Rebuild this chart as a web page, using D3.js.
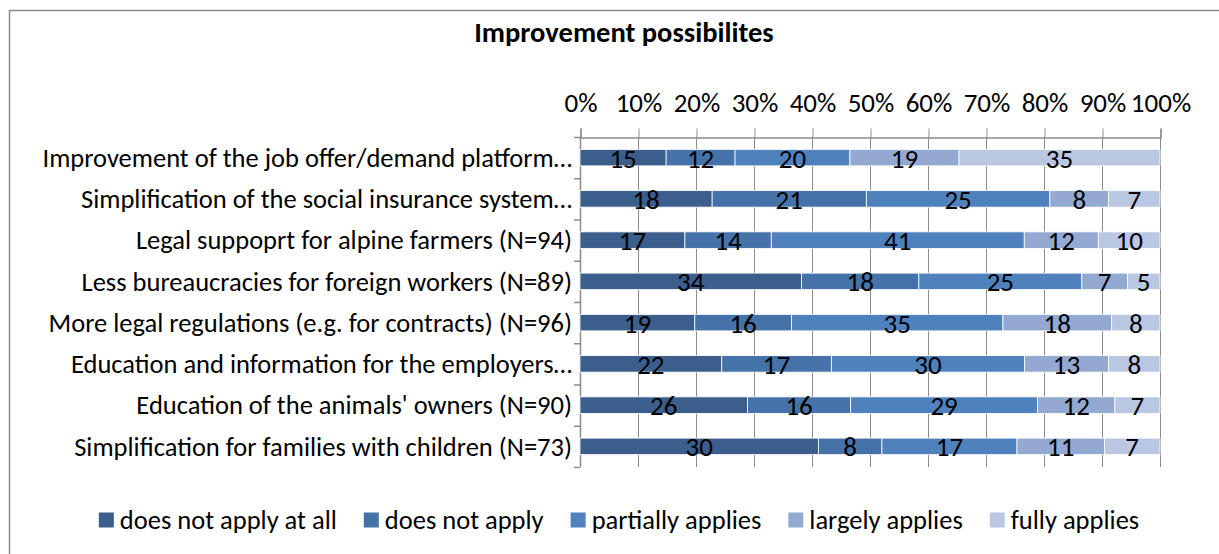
<!DOCTYPE html>
<html>
<head>
<meta charset="utf-8">
<script src="https://cdn.jsdelivr.net/npm/d3@7"></script>
<style>
  body { margin: 0; background: #fff; }
  svg { font-family: Carlito, Lato, sans-serif; }
</style>
</head>
<body>
<div id="vis"></div>
<script>
const categories = [
    "Improvement of the job offer/demand platform\u2026",
    "Simplification of the social insurance system\u2026",
    "Legal suppoprt for alpine farmers (N=94)",
    "Less bureaucracies for foreign workers (N=89)",
    "More legal regulations (e.g. for contracts) (N=96)",
    "Education and information for the employers\u2026",
    "Education of the animals' owners (N=90)",
    "Simplification for families with children (N=73)"
];
const seriesNames = ["does not apply at all", "does not apply", "partially applies", "largely applies", "fully applies"];
const doesNotApplyAtAll = [15, 18, 17, 34, 19, 22, 26, 30];
const doesNotApply      = [12, 21, 14, 18, 16, 17, 16, 8];
const partiallyApplies  = [20, 25, 41, 25, 35, 30, 29, 17];
const largelyApplies    = [19, 8, 12, 7, 18, 13, 12, 11];
const fullyApplies      = [35, 7, 10, 5, 8, 8, 7, 7];
const tickValues = [0, 0.1, 0.2, 0.3, 0.4, 0.5, 0.6, 0.7, 0.8, 0.9, 1];
const colors = ["#3b5e8c", "#4572a8", "#4f81bd", "#93a9d1", "#b9c7e2"];

const width = 1219, height = 554;
const svg = d3.select("#vis").append("svg")
    .attr("width", width)
    .attr("height", height);

// chart frame
svg.append("rect")
    .attr("x", 9.5).attr("y", 10.5)
    .attr("width", 1300).attr("height", 600)
    .attr("fill", "none")
    .attr("stroke", "#8c8c8c")
    .attr("stroke-width", 1.5);

svg.append("text")
    .attr("x", 624).attr("y", 42)
    .attr("text-anchor", "middle")
    .style("font-weight", "bold")
    .style("font-size", "28.5px")
    .text("Improvement possibilites");

const allSeries = [doesNotApplyAtAll, doesNotApply, partiallyApplies, largelyApplies, fullyApplies];
const rows = categories.map((c, i) => {
    const r = { category: c };
    seriesNames.forEach((s, j) => r[s] = allSeries[j][i]);
    return r;
});

const stacked = d3.stack().keys(seriesNames).offset(d3.stackOffsetExpand)(rows);

const x = d3.scaleLinear().domain([0, 1]).range([580, 1160]);
const y = d3.scaleBand().domain(categories).range([137, 467])
    .paddingInner(0.6).paddingOuter(0.3);

// gridlines
svg.append("g").selectAll("line")
    .data(tickValues)
    .enter().append("line")
    .attr("x1", d => x(d) + 0.5).attr("x2", d => x(d) + 0.5)
    .attr("y1", y.range()[0]).attr("y2", y.range()[1])
    .attr("stroke", "#8c8c8c");

// top axis
const xAxis = svg.append("g")
    .attr("transform", "translate(0.5,137.5)")
    .call(d3.axisTop(x).tickValues(tickValues).tickFormat(d3.format(".0%")).tickSize(9).tickPadding(17));
xAxis.select(".domain").attr("stroke", "#8c8c8c").attr("stroke-width", 1.5);
xAxis.selectAll(".tick line").attr("stroke", "#8c8c8c");
xAxis.selectAll(".tick text").attr("fill", "#000").style("font-size", "27px").style("font-family", "Carlito, Lato, sans-serif");

// left axis
const [y0, y1] = y.range();
svg.append("line")
    .attr("x1", x(0) + 0.5).attr("x2", x(0) + 0.5)
    .attr("y1", y0).attr("y2", y1)
    .attr("stroke", "#8c8c8c").attr("stroke-width", 1.5);
svg.append("g").selectAll("line")
    .data(d3.range(categories.length + 1))
    .enter().append("line")
    .attr("x1", x(0) - 6).attr("x2", x(0))
    .attr("y1", d => y0 + d * y.step() + 0.5)
    .attr("y2", d => y0 + d * y.step() + 0.5)
    .attr("stroke", "#8c8c8c").attr("stroke-width", 1.5);

// category labels
svg.append("g").selectAll("text")
    .data(categories)
    .enter().append("text")
    .attr("x", x(0) - 8)
    .attr("y", d => y(d) + y.bandwidth() / 2)
    .attr("dy", "0.35em")
    .attr("text-anchor", "end")
    .style("font-size", "26.5px")
    .text(d => d);

// bars
const layer = svg.append("g").selectAll("g")
    .data(stacked)
    .enter().append("g")
    .attr("fill", (d, i) => colors[i]);

layer.selectAll("rect")
    .data(d => d)
    .enter().append("rect")
    .attr("x", d => x(d[0]))
    .attr("y", d => y(d.data.category))
    .attr("width", d => x(d[1]) - x(d[0]))
    .attr("height", y.bandwidth())
    .attr("stroke", "#fff")
    .attr("stroke-width", 0.8);

// data labels: raw counts
svg.append("g").selectAll("g")
    .data(stacked)
    .enter().append("g")
    .selectAll("text")
    .data(d => d.map(v => ({ v, key: d.key })))
    .enter().append("text")
    .attr("x", d => (x(d.v[0]) + x(d.v[1])) / 2)
    .attr("y", d => y(d.v.data.category) + y.bandwidth() / 2)
    .attr("dy", "0.37em")
    .attr("text-anchor", "middle")
    .style("font-size", "27px")
    .text(d => d.v.data[d.key]);

// legend
const legend = svg.append("g");
const items = legend.selectAll("g")
    .data(seriesNames)
    .enter().append("g");
items.append("rect")
    .attr("width", 15).attr("height", 15)
    .attr("y", -7.5)
    .attr("fill", (d, i) => colors[i]);
items.append("text")
    .attr("x", 21)
    .attr("dy", "0.35em")
    .style("font-size", "26.5px")
    .text(d => d);

let pos = 0;
items.each(function () {
    const w = this.querySelector("text").getComputedTextLength();
    d3.select(this).attr("transform", `translate(${pos},0)`);
    pos += 21 + w + 27;
});
const total = pos - 27;
legend.attr("transform", `translate(${619 - total / 2},520)`);
</script>
</body>
</html>
